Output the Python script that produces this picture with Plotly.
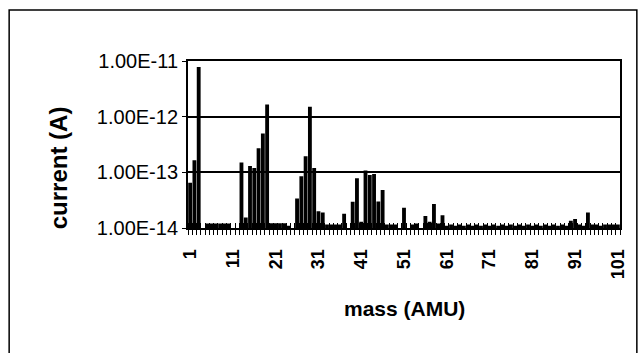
import plotly.graph_objects as go

masses = list(range(1, 102))
current = [
    6.5e-14, 1.65e-13, 7.8e-12, 1.0e-14, 1.2e-14, 1.2e-14, 1.2e-14, 1.2e-14, 1.2e-14, 1.2e-14,   # 1-10
    1.0e-14, 1.0e-14, 1.5e-13, 1.55e-14, 1.3e-13, 1.2e-13, 2.7e-13, 5.0e-13, 1.65e-12, 1.22e-14,  # 11-20
    1.22e-14, 1.22e-14, 1.22e-14, 1.1e-14, 1.0e-14, 3.4e-14, 8.5e-14, 1.95e-13, 1.5e-12, 1.2e-13,  # 21-30
    2.0e-14, 1.9e-14, 1.15e-14, 1.15e-14, 1.15e-14, 1.15e-14, 1.8e-14, 1.0e-14, 2.95e-14, 7.8e-14,  # 31-40
    1.3e-14, 1.08e-13, 9.0e-14, 9.3e-14, 3.0e-14, 4.8e-14, 1.15e-14, 1.15e-14, 1.15e-14, 1.0e-14,  # 41-50
    2.3e-14, 1.0e-14, 1.15e-14, 1.2e-14, 1.0e-14, 1.65e-14, 1.3e-14, 2.7e-14, 1.2e-14, 1.7e-14,    # 51-60
    1.1e-14, 1.15e-14, 1.1e-14, 1.15e-14, 1.1e-14, 1.15e-14, 1.1e-14, 1.15e-14, 1.1e-14, 1.15e-14,  # 61-70
    1.1e-14, 1.15e-14, 1.1e-14, 1.15e-14, 1.1e-14, 1.15e-14, 1.1e-14, 1.15e-14, 1.1e-14, 1.15e-14,  # 71-80
    1.1e-14, 1.15e-14, 1.1e-14, 1.15e-14, 1.1e-14, 1.15e-14, 1.1e-14, 1.15e-14, 1.1e-14, 1.35e-14,  # 81-90
    1.45e-14, 1.15e-14, 1.1e-14, 1.9e-14, 1.15e-14, 1.15e-14, 1.1e-14, 1.15e-14, 1.15e-14, 1.15e-14,  # 91-100
    1.15e-14,                                                                                       # 101
]
x_tick_labels = ["1", "11", "21", "31", "41", "51", "61", "71", "81", "91", "101"]
y_tick_vals = [1e-14, 1e-13, 1e-12, 1e-11]
y_tick_labels = ["1.00E-14", "1.00E-13", "1.00E-12", "1.00E-11"]
x_title = "mass (AMU)"
y_title = "current (A)"

FONT = "Liberation Sans, Arial, sans-serif"

fig = go.Figure()
fig.add_trace(go.Bar(x=masses, y=current, marker=dict(color="black", line=dict(width=0)),
                     showlegend=False, hoverinfo="skip"))
fig.add_trace(go.Scatter(x=[None], y=[None], xaxis="x2", yaxis="y", showlegend=False))

fig.update_layout(
    width=640, height=353,
    margin=dict(l=188, r=20, t=61, b=125),
    paper_bgcolor="white", plot_bgcolor="white",
    bargap=0.1,
    font=dict(family=FONT, color="black"),
    xaxis=dict(
        type="linear", range=[0.5, 101.5],
        tickmode="array", tickvals=[int(t) for t in x_tick_labels],
        ticktext=["<b>%s</b>" % t for t in x_tick_labels],
        tickangle=-90, tickfont=dict(size=18, family=FONT),
        ticks="", ticklabelstandoff=12, showgrid=False, zeroline=False,
        showline=True, linecolor="black", linewidth=2, mirror=True,
        minor=dict(ticks="outside", ticklen=5, tickwidth=1, tickcolor="black",
                   tick0=0.5, dtick=1, showgrid=False),
    ),
    xaxis2=dict(
        type="linear", range=[0.5, 101.5], overlaying="x", anchor="y", side="bottom",
        showticklabels=False, ticks="", showgrid=False, zeroline=False, showline=False,
        minor=dict(ticks="inside", ticklen=5, tickwidth=1, tickcolor="black",
                   tick0=0.5, dtick=1, showgrid=False),
    ),
    yaxis=dict(
        type="log", range=[-14, -11],
        tickmode="array", tickvals=y_tick_vals, ticktext=y_tick_labels,
        tickfont=dict(size=20, family=FONT),
        ticks="outside", ticklen=4, tickcolor="black",
        showgrid=True, gridcolor="black", gridwidth=2,
        showline=True, linecolor="black", linewidth=2, mirror=True,
        zeroline=False,
    ),
    annotations=[
        dict(text="<b>%s</b>" % y_title, xref="paper", yref="paper",
             x=-0.30, y=0.36, textangle=-90, showarrow=False,
             font=dict(size=24, family=FONT), xanchor="center", yanchor="middle"),
        dict(text="<b>%s</b>" % x_title, xref="paper", yref="paper",
             x=0.5, y=-0.48, showarrow=False,
             font=dict(size=21, family=FONT), xanchor="center", yanchor="middle"),
    ],
    shapes=[
        dict(type="rect", xref="paper", yref="paper",
             x0=-0.414, x1=1.039, y0=-0.8, y1=1.305,
             line=dict(color="black", width=1.5), fillcolor="rgba(0,0,0,0)", layer="below"),
    ],
)

fig.write_html("out.html")
